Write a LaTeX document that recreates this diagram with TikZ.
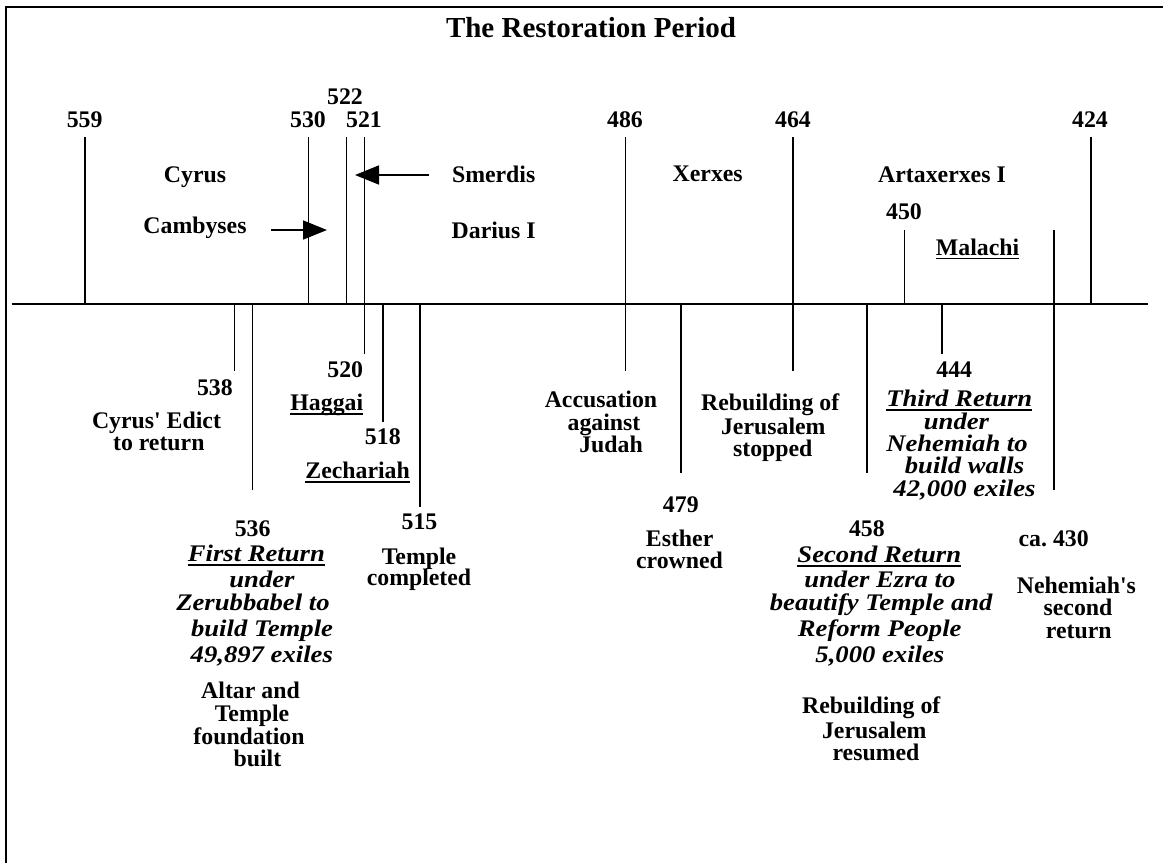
\documentclass[tikz,border=0pt]{standalone}
\usepackage{fontspec}
\setmainfont{Liberation Serif}
\newfontfamily\widefont[FakeStretch=1.12]{Liberation Serif}
\usetikzlibrary{arrows.meta}
\newcommand\ulbar[1]{\setbox0\hbox{#1}\rlap{\rule[-4.2pt]{\wd0}{1.7pt}}\box0}
\begin{document}
\begin{tikzpicture}[x=1pt,y=-1pt,
  lab/.style={inner sep=0pt, anchor=base, font=\fontsize{23.8}{26}\selectfont\bfseries},
  itl/.style={inner sep=0pt, anchor=base, font=\widefont\fontsize{23.8}{26}\selectfont\bfseries\itshape},
  tick/.style={line width=1.6pt},
  axis/.style={line width=2pt},
  arr/.style={line width=1.6pt, -{Triangle[length=24pt,width=19pt]}}]
\useasboundingbox (0,0) rectangle (1163,863);
\draw[line width=1.8pt] (6,863) -- (6,7) -- (1163,7);
% title
\node[inner sep=0pt, anchor=base, font=\fontsize{29}{32}\selectfont\bfseries] (title) at (591,37) {The Restoration Period};
% axis
\coordinate (axL) at (11.5,304);
\coordinate (axR) at (1148,304);
\draw[axis] (axL) -- (axR);
% upper ticks
\draw[tick] (85,137) -- (85,304);
\draw[tick] (308.5,137) -- (308.5,304);
\draw[tick] (346.3,137) -- (346.3,304);
\draw[tick] (364.3,137) -- (364.3,354);
\draw[tick] (625.4,137) -- (625.4,371);
\draw[tick] (793,137) -- (793,371);
\draw[tick] (904.6,230) -- (904.6,304);
\draw[tick] (1091,137) -- (1091,304);
\draw[tick] (1053.7,230) -- (1053.7,490);
% lower ticks
\draw[tick] (234.6,304) -- (234.6,371);
\draw[tick] (252.6,304) -- (252.6,490);
\draw[tick] (383,304) -- (383,422.3);
\draw[tick] (420.2,304) -- (420.2,506.7);
\draw[tick] (681,304) -- (681,472.7);
\draw[tick] (867,304) -- (867,472.7);
\draw[tick] (941.8,304) -- (941.8,354);
% arrows
\coordinate (smA) at (428.6,175);
\coordinate (smB) at (355,175);
\coordinate (caA) at (270.6,230);
\coordinate (caB) at (327,230);
\draw[arr] (smA) -- (smB);
\draw[arr] (caA) -- (caB);
% upper years
\node[lab] (y559) at (84.6,127) {559};
\node[lab] (y530) at (308,127) {530};
\node[lab] (y522) at (345,104) {522};
\node[lab] (y521) at (364,127) {521};
\node[lab] (y486) at (625,127) {486};
\node[lab] (y464) at (793,127) {464};
\node[lab] (y424) at (1090,127) {424};
\node[lab] (y450) at (904,219) {450};
% rulers
\node[lab] (cyrus) at (195,182.7) {Cyrus};
\node[lab] (cambyses) at (195,233) {Cambyses};
\node[lab] (smerdis) at (493.7,182.7) {Smerdis};
\node[lab] (darius) at (493.7,238.3) {Darius I};
\node[lab] (xerxes) at (707.7,181.7) {Xerxes};
\node[lab] (artax) at (942,182) {Artaxerxes I};
\node[lab] (malachi) at (977.6,255) {\ulbar{Malachi}};
% lower, left part
\node[lab] (y538) at (214.9,395) {538};
\node[lab] (edict1) at (156.5,428) {Cyrus\textquotesingle{} Edict};
\node[lab] (edict2) at (158.8,450) {to return};
\node[lab] (y520) at (345.2,377.3) {520};
\node[lab] (haggai) at (326.8,410.7) {\ulbar{Haggai}};
\node[lab] (y518) at (382.8,444.3) {518};
\node[lab] (zech) at (357.6,478.3) {\ulbar{Zechariah}};
\node[lab] (y515) at (419.5,529.3) {515};
\node[lab] (temple1) at (419,564) {Temple};
\node[lab] (temple2) at (419,585) {completed};
\node[lab] (y536) at (252.6,536) {536};
\node[itl] (fr1) at (256.4,561.7) {\ulbar{First Return}};
\node[itl] (fr2) at (262,587.7) {under};
\node[itl] (fr3) at (253,610.7) {Zerubbabel to};
\node[itl] (fr4) at (262,636) {build Temple};
\node[itl] (fr5) at (261.8,662.7) {49,897 exiles};
\node[lab] (alt1) at (250.5,698.3) {Altar and};
\node[lab] (alt2) at (252,721.7) {Temple};
\node[lab] (alt3) at (249,744) {foundation};
\node[lab] (alt4) at (257.4,766.7) {built};
% middle
\node[lab] (acc1) at (601,407) {Accusation};
\node[lab] (acc2) at (604,430) {against};
\node[lab] (acc3) at (611,452.3) {Judah};
\node[lab] (stop1) at (770.2,410.7) {Rebuilding of};
\node[lab] (stop2) at (773.3,434) {Jerusalem};
\node[lab] (stop3) at (772.8,456.7) {stopped};
\node[lab] (y479) at (680.8,512.7) {479};
\node[lab] (esther1) at (679.6,546.7) {Esther};
\node[lab] (esther2) at (679.5,568.3) {crowned};
% right part
\node[lab] (y444) at (954.2,377.3) {444};
\node[itl] (tr1) at (959.3,406.7) {\ulbar{Third Return}};
\node[itl] (tr2) at (956.5,429.3) {under};
\node[itl] (tr3) at (957,451) {Nehemiah to};
\node[itl] (tr4) at (964.5,473.3) {build walls};
\node[itl] (tr5) at (964.5,496.7) {42,000 exiles};
\node[lab] (y458) at (866.9,536.7) {458};
\node[itl] (sr1) at (879.3,562.7) {\ulbar{Second Return}};
\node[itl] (sr2) at (879.9,587.7) {under Ezra to};
\node[itl] (sr3) at (881.2,610.7) {beautify Temple and};
\node[itl] (sr4) at (879.7,636) {Reform People};
\node[itl] (sr5) at (879.9,662.7) {5,000 exiles};
\node[lab] (res1) at (871.3,713.3) {Rebuilding of};
\node[lab] (res2) at (874.3,738.3) {Jerusalem};
\node[lab] (res3) at (876,760) {resumed};
\node[lab] (y430) at (1053.7,546) {ca.\ 430};
\node[lab] (neh1) at (1076.4,593.3) {Nehemiah\textquotesingle s};
\node[lab] (neh2) at (1078,615) {second};
\node[lab] (neh3) at (1078.8,638.3) {return};
\end{tikzpicture}
\end{document}
